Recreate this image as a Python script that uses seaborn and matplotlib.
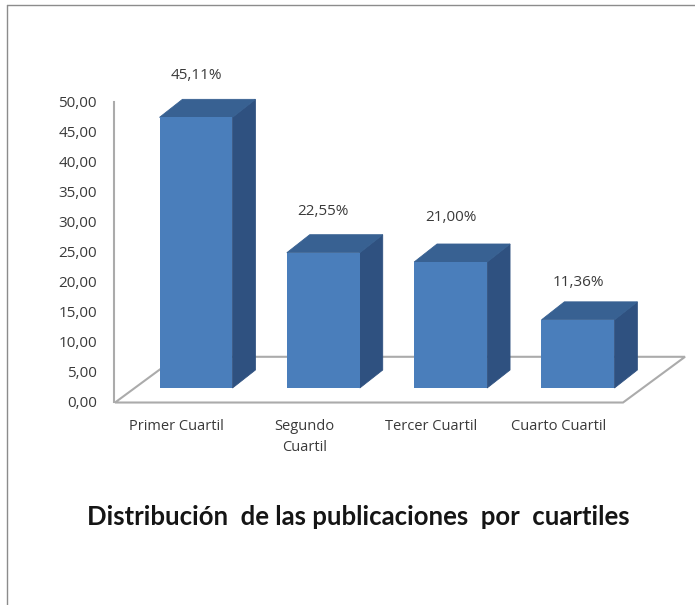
import matplotlib
matplotlib.use("Agg")
import matplotlib.pyplot as plt
from matplotlib.patches import Polygon
from matplotlib.lines import Line2D
import numpy as np
import pandas as pd
import seaborn as sns

# chart values
categories = ["Primer Cuartil", "Segundo\nCuartil", "Tercer Cuartil", "Cuarto Cuartil"]
values = [45.11, 22.55, 21.00, 11.36]
value_labels = ["45,11%", "22,55%", "21,00%", "11,36%"]
y_ticks = [0, 5, 10, 15, 20, 25, 30, 35, 40, 45, 50]
y_tick_labels = ["0,00", "5,00", "10,00", "15,00", "20,00", "25,00",
                 "30,00", "35,00", "40,00", "45,00", "50,00"]
label_gaps = [7.0, 6.8, 7.4, 6.2]

title = "Distribución  de las publicaciones  por  cuartiles"

# fake 3d look
front_color = "#4a7ebb"
side_color = "#2f5180"
top_color = "#386192"
line_color = "#ababab"
text_color = "#3a3a3a"
bar_base = 2.25     # bars stand on the floor, above the 0 line
depth_x = 0.18
depth_y = 3.0

sns.set_theme(style="white")
plt.rcParams["font.family"] = ["Open Sans", "DejaVu Sans"]

fig = plt.figure(figsize=(6.95, 6.05), dpi=100)
ax = fig.add_axes([113.5 / 695, (605 - 401.5) / 605, (690 - 113.5) / 695, 300 / 605])
ax.patch.set_alpha(0)

df = pd.DataFrame({"cuartil": categories, "valor": values})
sns.barplot(data=df, x="cuartil", y="valor", color=front_color, saturation=1,
            width=0.573, linewidth=0, ax=ax, zorder=3)

ax.set_xlim(-0.648, 3.88)
ax.set_ylim(0, 50)

# floor
floor = Polygon([(-0.636, -0.17), (3.354, -0.17), (3.841, 7.45), (-0.149, 7.45)],
                closed=True, facecolor="white", edgecolor=line_color, linewidth=1.5,
                clip_on=False, zorder=1)
ax.add_patch(floor)

# sides, tops and labels of each bar
for bar, val, lab, gap in zip(ax.patches[:4], values, value_labels, label_gaps):
    bar.set_y(bar_base)
    x0 = bar.get_x()
    x1 = x0 + bar.get_width()
    top = bar_base + val
    ax.add_patch(Polygon([(x1, bar_base), (x1 + depth_x, bar_base + depth_y),
                          (x1 + depth_x, top + depth_y), (x1, top)],
                         facecolor=side_color, edgecolor=side_color, linewidth=0.6,
                         zorder=2, clip_on=False))
    ax.add_patch(Polygon([(x0, top), (x0 + depth_x, top + depth_y),
                          (x1 + depth_x, top + depth_y), (x1, top)],
                         facecolor=top_color, edgecolor=top_color, linewidth=0.6,
                         zorder=2, clip_on=False))
    ax.text((x0 + x1) / 2, top + gap, lab, ha="center", va="center",
            fontsize=11, color=text_color)

ax.set_yticks(y_ticks)
ax.set_yticklabels(y_tick_labels, fontsize=11, color=text_color)
ax.set_xticks(np.arange(len(categories)) - 0.15)
ax.set_xticklabels(categories, fontsize=10.5, color=text_color, linespacing=1.55)
ax.tick_params(axis="y", length=0, pad=12)
ax.tick_params(axis="x", length=0, pad=12.5)
ax.set_xlabel("")
ax.set_ylabel("")

for side in ["top", "right", "bottom"]:
    ax.spines[side].set_visible(False)
ax.spines["left"].set_color(line_color)
ax.spines["left"].set_linewidth(1.5)

fig.text(358.5 / 695, 1 - 517 / 605, title, ha="center", va="center", family="Lato",
         fontsize=18.5, fontweight="bold", color="#151515")

# frame of the pasted picture: only top and left show
fig.add_artist(Line2D([7 / 695, 1], [1 - 5 / 605, 1 - 5 / 605], color="#8c8c8c", linewidth=1))
fig.add_artist(Line2D([7 / 695, 7 / 695], [0, 1 - 5 / 605], color="#8c8c8c", linewidth=1))

fig.savefig("out.png", dpi=100)
